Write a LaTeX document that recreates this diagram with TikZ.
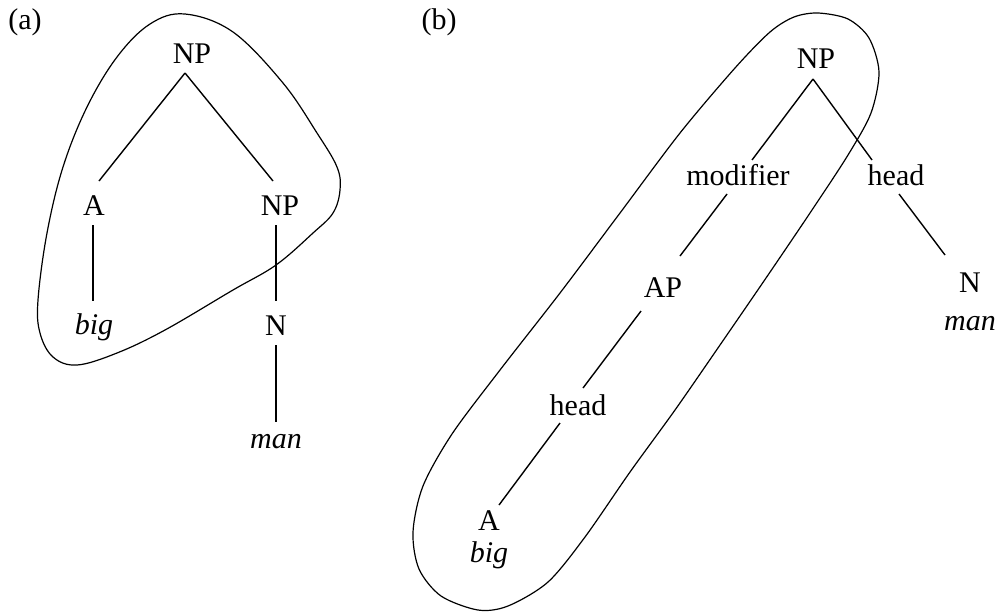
\documentclass[tikz,border=0pt]{standalone}
\usepackage{fontspec}
\setmainfont{Liberation Serif}
\usetikzlibrary{calc}
\begin{document}
\begin{tikzpicture}[x=0.5pt,y=-0.5pt,
  lbl/.style={anchor=base,inner sep=0pt,font=\fontsize{15}{18}\selectfont},
  edge/.style={line width=0.7pt},
  loop/.style={line width=0.6pt}]
\useasboundingbox (0,0) rectangle (1000,612);
% labels
\node[lbl] (la) at (25,29) {(a)};
\node[lbl] (lb) at (439,29) {(b)};
% tree (a)
\node[lbl] (np1) at (192,63) {NP};
\node[lbl] (a1) at (94,215) {A};
\node[lbl] (np1b) at (280,215) {NP};
\node[lbl] (big1) at (94,334) {\itshape big};
\node[lbl] (n1) at (276,335) {N};
\node[lbl] (man1) at (276,448) {\itshape man};
\draw[edge] ($(np1.base)+(-7,10)$) -- ($(a1.base)+(5,-34)$);
\draw[edge] ($(np1.base)+(-7,10)$) -- ($(np1b.base)+(-7,-34)$);
\draw[edge] ($(a1.base)+(-1,10)$) -- ($(big1.base)+(-1,-33)$);
\draw[edge] ($(np1b.base)+(-4,10)$) -- ($(n1.base)+(0,-34)$);
\draw[edge] ($(n1.base)+(0,10)$) -- ($(man1.base)+(0,-26)$);
\draw[loop] plot[smooth cycle,tension=0.6] coordinates {
  (185,14) (233,32) (283,83) (317,133) (337,167) (340,190) (333,213)
  (313,233) (276,265) (233,290) (165,330) (117,353) (77,365) (53,357)
  (40,333) (38,300) (47,233) (63,167) (87,107) (117,57) (150,24)};
% tree (b)
\node[lbl] (np2) at (816,68) {NP};
\node[lbl] (mod) at (738,185) {modifier};
\node[lbl] (head1) at (896,185) {head};
\node[lbl] (ap) at (663,297) {AP};
\node[lbl] (n2) at (970,292) {N};
\node[lbl] (man2) at (970,330) {\itshape man};
\node[lbl] (head2) at (578,415) {head};
\node[lbl] (a2) at (489,530) {A};
\node[lbl] (big2) at (489,562) {\itshape big};
\draw[edge] ($(np2.base)+(-3,11)$) -- ($(mod.base)+(14,-25)$);
\draw[edge] ($(np2.base)+(-3,11)$) -- ($(head1.base)+(-24,-25)$);
\draw[edge] ($(mod.base)+(-11,9)$) -- ($(ap.base)+(17,-41)$);
\draw[edge] ($(head1.base)+(3,9)$) -- ($(n2.base)+(-25,-37)$);
\draw[edge] ($(ap.base)+(-22,14)$) -- ($(head2.base)+(5,-27)$);
\draw[edge] ($(head2.base)+(-18,8)$) -- ($(a2.base)+(10,-25)$);
\draw[loop] plot[smooth cycle,tension=0.5] coordinates {
  (818,13) (848,19) (869,38) (879,72) (871,113) (848,155) (812,210)
  (766,278) (720,345) (675,410) (630,472) (585,537) (548,582) (508,606)
  (478,610) (441,596) (419,569) (413,532) (423,486) (452,434) (500,370)
  (560,293) (620,213) (680,133) (735,68) (770,32) (794,17)};
\end{tikzpicture}
\end{document}
